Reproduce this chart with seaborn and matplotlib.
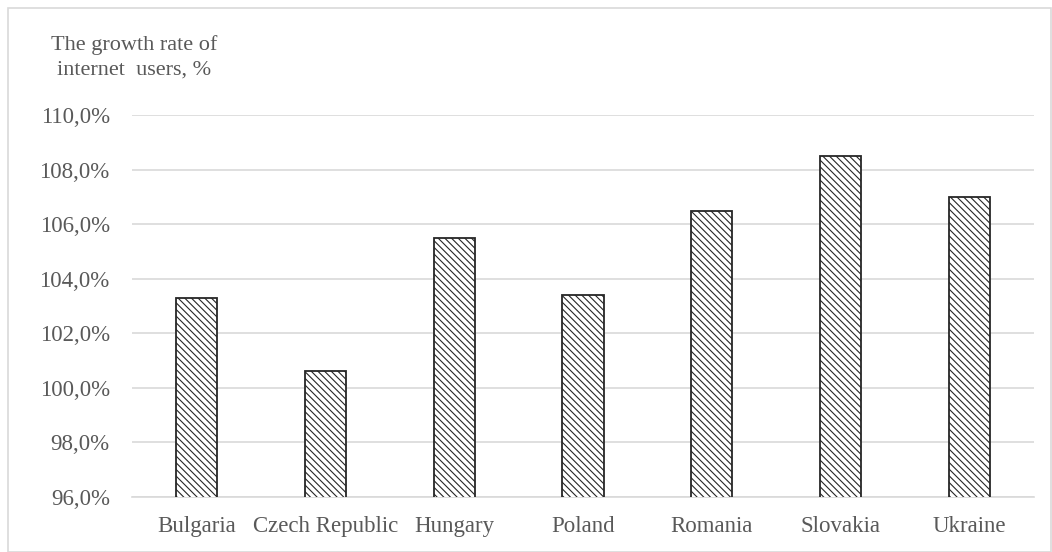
import matplotlib
matplotlib.use("Agg")
import matplotlib.pyplot as plt
import matplotlib.patches as mpatches
from matplotlib.ticker import FuncFormatter
import seaborn as sns
import pandas as pd

countries = ["Bulgaria", "Czech Republic", "Hungary", "Poland", "Romania", "Slovakia", "Ukraine"]
growth_rate = [103.3, 100.6, 105.5, 103.4, 106.5, 108.5, 107.0]
y_ticks = [96, 98, 100, 102, 104, 106, 108, 110]

sns.set_theme(style="white")
plt.rcParams["font.family"] = ["Liberation Serif", "DejaVu Serif"]
plt.rcParams["hatch.linewidth"] = 0.8
plt.rcParams["hatch.color"] = "#303030"

df = pd.DataFrame({"country": countries, "rate": growth_rate})

fig = plt.figure(figsize=(10.52, 5.52), dpi=100)
ax = fig.add_axes([132 / 1052, 1 - 497 / 552, (1034 - 132) / 1052, (497 - 115) / 552])

sns.barplot(data=df, x="country", y="rate", ax=ax, color="white",
            width=0.32, edgecolor="#262626", linewidth=1.3, zorder=3)
for bar in ax.patches:
    bar.set_hatch("\\\\\\\\\\")
    bar.set_facecolor("white")

ax.set_ylim(96, 110)
ax.set_xlim(-0.5, len(countries) - 0.5)
ax.set_yticks(y_ticks)
ax.yaxis.set_major_formatter(FuncFormatter(lambda v, p: f"{v:.1f}%".replace(".", ",")))
ax.grid(axis="y", color="#d9d9d9", linewidth=1.2, zorder=0)
ax.set_axisbelow(True)
for side in ["left", "right", "top"]:
    ax.spines[side].set_visible(False)
ax.spines["bottom"].set_color("#d9d9d9")
ax.spines["bottom"].set_linewidth(1.2)
ax.tick_params(axis="y", length=0, pad=16, labelsize=16.5, labelcolor="#595959")
ax.tick_params(axis="x", length=0, pad=14, labelsize=16.5, labelcolor="#595959")
ax.set_xlabel("")
ax.set_ylabel("")

fig.text(134 / 1052, 1 - 57 / 552, "The growth rate of\ninternet  users, %", ha="center",
         va="center", fontsize=16, color="#595959", linespacing=1.4)

fig.patches.append(mpatches.Rectangle((8 / 1052, 0), 1043 / 1052, 1 - 8 / 552,
                                      transform=fig.transFigure, fill=False,
                                      edgecolor="#d9d9d9", linewidth=1.2))

fig.savefig("out.png", dpi=100, facecolor="white")
